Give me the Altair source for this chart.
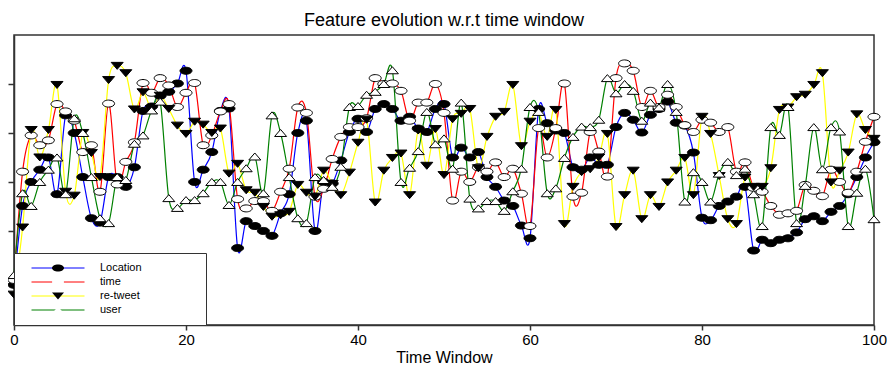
import altair as alt
import pandas as pd

T = list(range(101))
SERIES = ["Location", "time", "re-tweet", "user"]
LINE_COLORS = ["#0000ff", "#ff0000", "#ffff00", "#008000"]
FILLS = ["black", "white", "black", "white"]

LOC = [0.9, 2.51, 3.0, 3.25, 3.5, 2.75, 4.36, 4.0, 3.1, 2.26,
       2.17, 3.1, 3.1, 2.9, 3.3, 4.45, 4.54, 4.76, 4.84, 5.01,
       5.27, 3.0, 3.25, 3.61, 4.45, 4.5, 1.65, 2.2, 2.1, 2.0,
       1.9, 2.36, 2.75, 4.0, 4.25, 2.0, 3.0, 2.97, 3.44, 4.02,
       4.29, 4.02, 4.49, 4.59, 4.49, 4.25, 4.33, 4.09, 4.02, 4.49,
       4.59, 3.5, 3.7, 3.5, 3.61, 3.1, 2.9, 2.62, 2.51, 2.11,
       1.85, 4.49, 4.2, 4.05, 4.0, 3.3, 3.25, 3.5, 3.35, 3.35,
       4.12, 4.41, 4.27, 4.01, 4.37, 4.49, 4.64, 4.21, 4.15, 3.6,
       2.27, 2.22, 2.51, 2.6, 2.7, 2.9, 1.6, 1.82, 1.75, 1.82,
       1.85, 1.97, 2.24, 2.3, 2.2, 2.39, 2.51, 2.75, 3.1, 3.5, 3.81]

TIME = [1.0, 3.21, 3.95, 3.75, 3.85, 4.59, 4.44, 4.25, 3.61, 3.75,
        2.8, 4.6, 2.95, 3.41, 3.81, 5.02, 4.82, 5.12, 4.97, 4.53,
        4.82, 5.02, 3.75, 3.95, 4.44, 4.59, 2.65, 2.46, 2.61, 2.61,
        2.41, 2.8, 3.27, 4.52, 4.41, 2.7, 2.86, 3.47, 3.92, 4.12,
        4.12, 4.3, 5.12, 5.0, 5.01, 4.86, 4.25, 4.62, 4.62, 5.0,
        4.41, 2.62, 3.21, 3.0, 3.3, 3.21, 3.4, 3.1, 3.27, 2.76,
        2.1, 4.1, 3.5, 4.1, 5.01, 2.7, 2.78, 4.02, 3.62, 3.11,
        5.12, 5.42, 5.27, 4.53, 4.86, 4.53, 4.78, 4.53, 4.16, 4.02,
        4.27, 4.21, 4.02, 4.12, 3.21, 3.4, 2.88, 2.8, 2.51, 2.33,
        2.36, 2.41, 2.94, 2.82, 2.71, 3.25, 3.0, 2.78, 3.21, 3.82, 4.33]

RETWEET = [0.7, 2.07, 4.06, 3.5, 4.06, 4.98, 2.8, 2.72, 4.0, 3.59,
           3.1, 5.08, 5.37, 5.22, 4.48, 4.83, 4.49, 4.76, 4.49, 4.15,
           3.98, 4.23, 4.17, 4.0, 4.09, 3.17, 3.37, 2.83, 2.78, 2.49,
           2.29, 2.32, 2.39, 2.94, 2.78, 2.7, 3.23, 2.96, 2.73, 3.19,
           3.8, 4.27, 2.58, 3.23, 3.49, 3.58, 2.73, 4.05, 3.33, 4.08,
           3.14, 4.28, 4.39, 4.49, 3.28, 3.92, 4.33, 4.43, 4.98, 3.73,
           4.23, 4.42, 3.92, 4.47, 2.14, 2.9, 3.2, 3.26, 3.5, 3.98,
           2.08, 2.73, 3.23, 2.24, 2.73, 2.49, 2.99, 3.23, 3.49, 2.73,
           4.33, 3.98, 3.12, 2.24, 2.14, 3.09, 2.9, 2.9, 3.28, 4.47,
           4.52, 4.73, 4.78, 4.98, 5.22, 2.99, 3.23, 3.6, 4.38, 4.06, 3.88]

USER = [1.1, 2.77, 2.51, 3.0, 3.25, 3.5, 2.75, 4.3, 4.0, 3.1,
        2.26, 2.16, 3.1, 3.04, 3.78, 3.95, 4.46, 4.64, 2.67, 2.47,
        2.63, 2.63, 2.77, 3.0, 3.0, 2.53, 3.0, 3.28, 3.52, 2.77,
        4.36, 4.0, 3.1, 2.26, 2.16, 3.1, 3.04, 2.9, 3.31, 4.53,
        4.55, 4.78, 4.84, 5.0, 5.28, 3.0, 3.29, 3.63, 4.43, 3.77,
        3.89, 3.27, 4.62, 2.66, 2.46, 2.61, 2.61, 2.41, 2.81, 3.27,
        4.53, 4.43, 2.77, 2.87, 3.49, 3.92, 4.13, 4.12, 4.27, 5.12,
        4.81, 5.0, 4.86, 4.25, 4.62, 4.52, 5.0, 4.43, 2.6, 3.2,
        3.0, 2.6, 3.17, 3.41, 3.14, 3.27, 2.75, 2.1, 4.12, 3.96,
        4.53, 2.16, 2.92, 4.12, 3.26, 4.12, 4.03, 2.1, 2.78, 3.27, 2.24]

X_TICKS = [0, 20, 40, 60, 80, 100]
Y_TICKS = [1, 2, 3, 4, 5]

rows = []
for name, vals in zip(SERIES, [LOC, TIME, RETWEET, USER]):
    for t, v in zip(T, vals):
        rows.append({"t": t, "value": v, "series": name, "line": name})
df = pd.DataFrame(rows)

# marker paths (unit box scaled by sqrt(size)/2)
w, h = 0.2264, 0.132
ELLIPSE = f"M{-w},0A{w},{h} 0 1,1 {w},0A{w},{h} 0 1,1 {-w},0Z"
DOWN = f"M{-w},{-h}L{w},{-h}L0,{h}Z"
UP = f"M{-w},{h}L{w},{h}L0,{-h}Z"
SHAPES = [ELLIPSE, ELLIPSE, DOWN, UP]
MSIZE = 2809

pad = "\u2800" * 7
label_expr = f"datum.label + '{pad}'"
common_legend = dict(
    orient="none", legendX=0, legendY=218, title=None, padding=8,
    symbolSize=MSIZE, clipHeight=14, rowPadding=0, symbolOffset=9,
    labelOffset=15, labelFontSize=11, labelFont="Liberation Sans",
    labelColor="black", labelExpr=label_expr, symbolStrokeWidth=1,
)

x = alt.X("t:Q", scale=alt.Scale(domain=[0, 100], nice=False, zero=False),
          axis=alt.Axis(values=X_TICKS, title="Time Window", labelFlush=False,
                        grid=False, labelFontSize=15, titleFontSize=16,
                        tickSize=5, labelPadding=2, titlePadding=2))
y = alt.Y("value:Q", scale=alt.Scale(domain=[0.08, 6.0], nice=False, zero=False),
          axis=alt.Axis(values=Y_TICKS, labels=False, title=None, grid=False,
                        tickSize=6))

lines = alt.Chart(df).mark_line(interpolate="cardinal", strokeWidth=1.2).encode(
    x=x, y=y,
    color=alt.Color("line:N", sort=SERIES, scale=alt.Scale(range=LINE_COLORS),
                    legend=alt.Legend(fillColor="white", strokeColor="#333333",
                                      **common_legend)),
)

points = alt.Chart(df).mark_point(filled=True, size=MSIZE, stroke="black",
                                  strokeWidth=1, opacity=1).encode(
    x=x, y=y,
    shape=alt.Shape("series:N", scale=alt.Scale(domain=SERIES, range=SHAPES),
                    legend=alt.Legend(symbolStrokeColor="black", labelOpacity=0,
                                      **common_legend)),
    fill=alt.Fill("series:N", scale=alt.Scale(domain=SERIES, range=FILLS),
                  legend=alt.Legend(symbolStrokeColor="black", labelOpacity=0,
                                    **common_legend)),
)

chart = alt.layer(lines, points).properties(
    width=860, height=290,
    title=alt.TitleParams("Feature evolution w.r.t time window", fontSize=18,
                          font="Liberation Sans", fontWeight="normal",
                          color="black", anchor="middle", offset=5),
    padding={"left": 6, "top": 27, "right": 13, "bottom": 41},
    autosize=alt.AutoSizeParams(type="none"),
).configure_view(stroke="#333333", strokeWidth=1.5).configure_axis(
    domainColor="#333333", domainWidth=1.5, tickColor="#333333", tickWidth=1.5,
    labelFont="Liberation Sans", titleFont="Liberation Sans",
    labelColor="black", titleColor="black", titleFontWeight="normal",
)

chart.save("out.html", embed_options={"renderer": "svg", "actions": False})
